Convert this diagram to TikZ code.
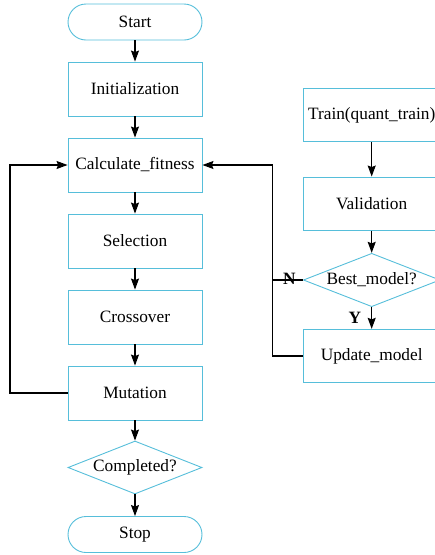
\documentclass[tikz,border=0pt]{standalone}
\usepackage{fontspec}
\setmainfont{Liberation Serif}
\usetikzlibrary{shapes.geometric,arrows.meta,calc}
\definecolor{boxc}{RGB}{86,190,218}
\begin{document}
\begin{tikzpicture}[x=1pt,y=-1pt,
  every node/.style={font=\fontsize{17.3}{20}\selectfont, inner sep=0pt},
  procbox/.style={draw=boxc, line width=0.9pt, rectangle, minimum width=134pt, minimum height=54pt},
  rprocbox/.style={procbox, minimum width=136.7pt, minimum height=53.4pt},
  termbox/.style={draw=boxc, line width=0.9pt, rectangle, rounded corners=18pt, minimum width=134pt, minimum height=36pt},
  decbox/.style={draw=boxc, line width=0.9pt, diamond, aspect=2.5, minimum width=134pt, minimum height=53pt},
  rdecbox/.style={decbox, minimum width=136.7pt, minimum height=53.4pt},
  arr/.style={draw, line width=1.1pt, -{Stealth[length=11pt,width=8pt,inset=1.5pt]}},
  ln/.style={draw, line width=1.1pt},
  lbl/.style={font=\fontsize{17.3}{20}\selectfont\bfseries}
]
\useasboundingbox (0,0) rectangle (435,555);
\node[termbox] (start) at (135,22) {Start};
\node[procbox] (init) at (135,89) {Initialization};
\node[procbox] (calc) at (135,165) {Calculate\_fitness};
\node[procbox] (sel) at (135,241) {Selection};
\node[procbox] (cross) at (135,317) {Crossover};
\node[procbox] (mut) at (135,393) {Mutation};
\node[decbox] (comp) at (135,467.5) {Completed?};
\node[termbox] (stop) at (135,534.5) {Stop};

\node[rprocbox] (train) at (371.7,115) {Train(quant\_train)};
\node[rprocbox] (valid) at (371.7,203.7) {Validation};
\node[rdecbox] (best) at (371.7,280) {Best\_model?};
\node[rprocbox] (upd) at (371.7,356) {Update\_model};

\coordinate (lft) at (10,393);
\coordinate (jn) at (272.7,165);

\path[arr] (start) -- (init);
\path[arr] (init) -- (calc);
\path[arr] (calc) -- (sel);
\path[arr] (sel) -- (cross);
\path[arr] (cross) -- (mut);
\path[arr] (mut) -- (comp);
\path[arr] (comp) -- (stop);
\path[arr] (mut.west) -- (lft) |- (calc.west);

\path[arr] (train) -- (valid);
\path[arr] (valid) -- (best.north);
\path[arr] (best.south) -- node[lbl, left=10pt] (ylab) {Y} (upd.north);
\path[ln] (best.west) -- (best.west -| jn) node[lbl, pos=0.45, above=-5pt] (nlab) {N};
\path[arr] (upd.west) -| (jn) -- (calc.east);
\end{tikzpicture}
\end{document}
